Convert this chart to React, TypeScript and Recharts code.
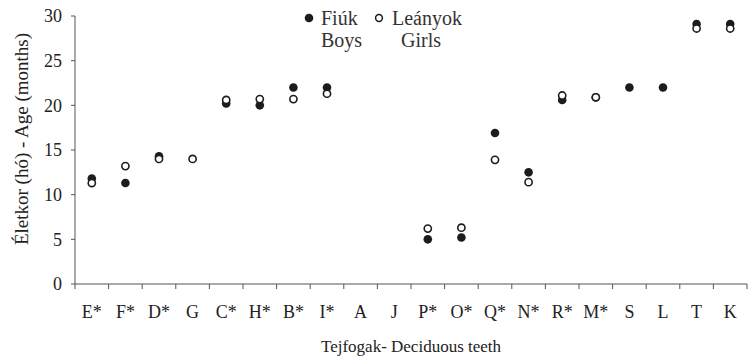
import { ComposedChart, Scatter, XAxis, YAxis, Label } from "recharts"

// eruption age of deciduous teeth, months
const teeth = ["E*", "F*", "D*", "G", "C*", "H*", "B*", "I*", "A", "J", "P*", "O*", "Q*", "N*", "R*", "M*", "S", "L", "T", "K"]
const boys: (number | null)[] = [11.8, 11.3, 14.3, null, 20.2, 20.0, 22.0, 22.0, null, null, 5.0, 5.2, 16.9, 12.5, 20.6, 20.9, 22.0, 22.0, 29.1, 29.1]
const girls: (number | null)[] = [11.3, 13.2, 14.0, 14.0, 20.6, 20.7, 20.7, 21.3, null, null, 6.2, 6.3, 13.9, 11.4, 21.1, 20.9, null, null, 28.6, 28.6]
const yTicks = [0, 5, 10, 15, 20, 25, 30]

// each tooth sits in the middle of a unit slot; slot edges get tick marks
const rows = teeth.map((tooth, i) => ({ tooth, pos: i + 0.5, boys: boys[i], girls: girls[i] }))
const xTicks = Array.from({ length: teeth.length * 2 + 1 }, (_, k) => k / 2)

const INK = "#1c1c1c"
const AXIS = "#555"
const TEXT = "#222"
const FONT = "Liberation Serif, Times New Roman, DejaVu Serif, serif"
const TICK_SIZE = 5
const TICK_GAP = 16

const FilledDot = (props: any) =>
  props.payload?.boys == null ? <g /> : <circle cx={props.cx} cy={props.cy} r={4.3} fill={INK} />
const OpenDot = (props: any) =>
  props.payload?.girls == null ? (
    <g />
  ) : (
    <circle cx={props.cx} cy={props.cy} r={3.6} fill="#fff" stroke={INK} strokeWidth={1.6} />
  )

// slot edges: short tick; slot centres: tooth name
function ToothTick(props: any) {
  const { x, y, payload } = props
  const v = payload.value as number
  if (Number.isInteger(v)) {
    const axisY = y - TICK_SIZE - TICK_GAP
    return <line x1={x} x2={x} y1={axisY} y2={axisY + TICK_SIZE} stroke={AXIS} />
  }
  return (
    <text x={x} y={y} dy="0.71em" textAnchor="middle" fill={TEXT} fontSize={18} fontFamily={FONT}>
      {teeth[Math.floor(v)]}
    </text>
  )
}

function LegendBox() {
  const text = { position: "absolute" as const, fontFamily: FONT, fontSize: 20, color: "#333", lineHeight: "22px", whiteSpace: "nowrap" as const }
  return (
    <div style={{ position: "absolute", left: 303, top: 7, width: 180, height: 50 }}>
      <svg width={180} height={24} style={{ position: "absolute", left: 0, top: 0 }}>
        <circle cx={6} cy={11} r={4.3} fill={INK} />
        <circle cx={76} cy={11} r={3.4} fill="#fff" stroke={INK} strokeWidth={1.5} />
      </svg>
      <div style={{ ...text, left: 18, top: 0 }}>Fiúk<br />Boys</div>
      <div style={{ ...text, left: 89, top: 0 }}>Leányok</div>
      <div style={{ ...text, left: 98, top: 22 }}>Girls</div>
    </div>
  )
}

function YTitle(props: any) {
  const { viewBox } = props
  const cx = viewBox.x + 21
  const cy = 139
  return (
    <text x={cx} y={cy} transform={`rotate(-90 ${cx} ${cy})`} textAnchor="middle" dominantBaseline="central" fill={TEXT} fontSize={19} fontFamily={FONT}>
      Életkor (hó) - Age (months)
    </text>
  )
}

export default function App() {
  return (
    <div style={{ position: "absolute", left: 0, top: 0, width: 748, height: 359, background: "#fff", fontFamily: FONT }}>
      <ComposedChart width={748} height={359} data={rows} margin={{ top: 16, right: 1, bottom: 0, left: 0 }}>
        <XAxis
          type="number"
          dataKey="pos"
          domain={[0, teeth.length]}
          ticks={xTicks}
          interval={0}
          height={75}
          tickSize={TICK_SIZE}
          tickMargin={TICK_GAP}
          tickLine={{ stroke: "none" }}
          stroke={AXIS}
          tick={<ToothTick />}
        >
          <Label value="Tejfogak- Deciduous teeth" position="insideBottom" offset={7} fill={TEXT} fontSize={17} fontFamily={FONT} />
        </XAxis>
        <YAxis
          type="number"
          domain={[0, 30]}
          ticks={yTicks}
          width={75}
          tickSize={4}
          tickMargin={9}
          stroke={AXIS}
          tick={{ fill: TEXT, fontSize: 18, fontFamily: FONT }}
        >
          <Label content={<YTitle />} />
        </YAxis>
        <Scatter name="Fiúk" dataKey="boys" shape={FilledDot} isAnimationActive={false} />
        <Scatter name="Leányok" dataKey="girls" shape={OpenDot} isAnimationActive={false} />
      </ComposedChart>
      <LegendBox />
    </div>
  )
}
